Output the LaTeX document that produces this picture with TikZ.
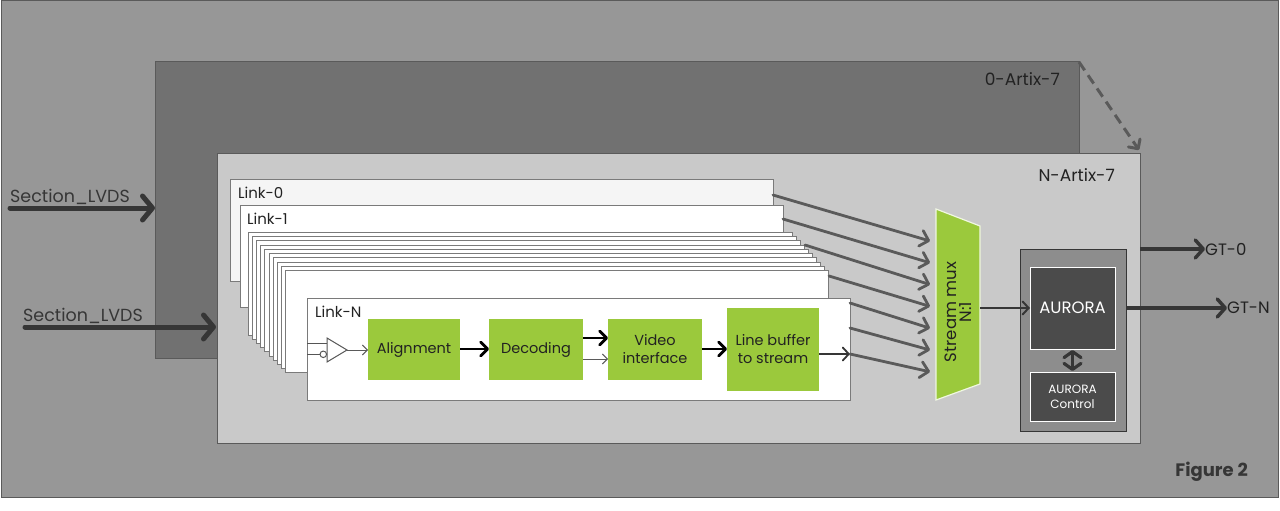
\documentclass[tikz,border=0pt]{standalone}
\usepackage{fontspec}
\setmainfont{Poppins}
\usetikzlibrary{arrows.meta}
\definecolor{outerbg}{HTML}{979797}
\definecolor{artixzero}{HTML}{717171}
\definecolor{artixn}{HTML}{C9C9C9}
\definecolor{edge}{HTML}{5A5A5A}
\definecolor{linkedge}{HTML}{7A7A7A}
\definecolor{lgreen}{HTML}{9BC93C}
\definecolor{arrowgray}{HTML}{5A5A5A}
\definecolor{darkarrow}{HTML}{363636}
\definecolor{auroracont}{HTML}{8D8D8D}
\definecolor{aurorabox}{HTML}{4B4B4B}
\definecolor{txt}{HTML}{222222}
\newcommand\cornerbox[7]{\node[#2,anchor=north west,minimum width={#5-#3},minimum height={#6-#4}] (#1) at (#3,#4) {#7};}
\tikzset{
  boxbase/.style={inner sep=0pt,outer sep=0pt},
  outerframe/.style={boxbase,fill=outerbg,draw=edge,line width=1pt},
  artixzerobox/.style={boxbase,fill=artixzero,draw=edge,line width=1pt},
  artixnbox/.style={boxbase,fill=artixn,draw=edge,line width=1pt},
  linkbox/.style={boxbase,fill=white,draw=linkedge,line width=0.8pt},
  greenbox/.style={boxbase,fill=lgreen,text=txt,font=\fontsize{14.5}{18}\selectfont,align=center},
  auroracontainer/.style={boxbase,fill=auroracont,draw=darkarrow,line width=1pt},
  aurorablock/.style={boxbase,fill=aurorabox,draw=white,line width=1pt,text=white,align=center},
  lbl/.style={inner sep=0pt,text=txt},
  lvdsarrow/.style={draw=darkarrow,line width=5pt,line cap=round,-{Straight Barb[length=10pt,width=24pt,line cap=round,line join=round]}},
  muxarrow/.style={draw=arrowgray,line width=2.8pt,line cap=round,-{Straight Barb[length=8pt,width=16pt,line cap=round,line join=round]}},
  thickarrow/.style={draw=black,line width=2.8pt,-{Straight Barb[length=7pt,width=14pt,line cap=round,line join=round]}},
  thinarrow/.style={draw=arrowgray,line width=0.9pt,-{Straight Barb[length=5pt,width=10pt]}},
  gtarrow/.style={draw=darkarrow,line width=3.5pt,-{Straight Barb[length=8pt,width=18pt,line cap=round,line join=round]}},
  duoarrow/.style={draw=darkarrow,line width=3.2pt,{Straight Barb[length=6pt,width=17pt,line cap=round,line join=round]}-{Straight Barb[length=6pt,width=17pt,line cap=round,line join=round]}},
}
\begin{document}
\begin{tikzpicture}[x=1pt,y=-1pt]
\useasboundingbox (0,0) rectangle (1280,511);
\fill[white] (0,0) rectangle (1280,511);
% frames
\cornerbox{outer}{outerframe}{1}{1}{1278}{497}{}
\cornerbox{artixzero}{artixzerobox}{155}{62}{1079}{358}{}
\cornerbox{artixn}{artixnbox}{217}{153}{1140}{443}{}
\node[lbl,anchor=base east,font=\fontsize{17}{18}\selectfont] (zerolbl) at (1060,85) {0-Artix-7};
\node[lbl,anchor=base east,font=\fontsize{17}{18}\selectfont] (nlbl) at (1115,181) {N-Artix-7};
\draw[draw=arrowgray,line width=3pt,dash pattern=on 10pt off 6pt,-{Straight Barb[length=7pt,width=14pt,line cap=round,line join=round]}] (artixzero.north east) -- ([xshift=-1pt,yshift=3pt]artixn.north east);
% inputs
\coordinate (lvdsa) at (10,208);
\coordinate (lvdsb) at (25,327);
\node[lbl,anchor=base west,font=\fontsize{17.5}{18}\selectfont,text=darkarrow] (lvdsalbl) at (10,202) {Section\_LVDS};
\node[lbl,anchor=base west,font=\fontsize{17.5}{18}\selectfont,text=darkarrow] (lvdsblbl) at (23,321) {Section\_LVDS};
\draw[lvdsarrow] (lvdsa) -- (lvdsa -| artixzero.west);
\draw[lvdsarrow] (lvdsb) -- ([xshift=-1pt]lvdsb -| artixn.west);
% link stack
\cornerbox{linkzero}{linkbox,fill=white!96!black}{230}{179}{773}{281}{}
\node[lbl,anchor=base west,font=\fontsize{15}{16}\selectfont] (linkzerolbl) at (238,198) {Link-0};
\cornerbox{linkone}{linkbox}{240}{205}{783}{307}{}
\node[lbl,anchor=base west,font=\fontsize{15}{16}\selectfont] (linkonelbl) at (247,224) {Link-1};
\foreach \i in {0,...,9}{
  \pgfmathsetmacro\xa{248+4.2*\i}
  \pgfmathsetmacro\ya{232+4.3*\i}
  \pgfmathsetmacro\xb{792+4*\i}
  \pgfmathsetmacro\yb{335+4.2*\i}
  \cornerbox{stack\i}{linkbox}{\xa}{\ya}{\xb}{\yb}{}
}
\cornerbox{linkn}{linkbox}{307}{298}{850}{400}{}
\node[lbl,anchor=base west,font=\fontsize{15}{16}\selectfont] (linknlbl) at (315,317) {Link-N};
% buffer symbol
\coordinate (bufa) at (327,338);
\coordinate (bufb) at (327,362);
\coordinate (bufo) at (347,350);
\draw[linkedge!70!black,line width=1pt,fill=white] (bufa) -- (bufb) -- (bufo) -- cycle;
\draw[linkedge!70!black,line width=1pt] (linkn.west |- 0,343) -- (327,343);
\draw[linkedge!70!black,line width=1pt] (linkn.west |- 0,354) -- (320,354);
\node[circle,draw=linkedge!70!black,line width=1pt,fill=white,inner sep=0pt,minimum size=6.5pt] (bubble) at (323.3,354.3) {};
% green blocks
\cornerbox{align}{greenbox}{368}{319}{460}{380}{Alignment}
\cornerbox{decode}{greenbox}{489}{319}{583}{380}{Decoding}
\cornerbox{video}{greenbox}{608}{319}{702}{380}{Video\\interface}
\cornerbox{lbuf}{greenbox}{727}{308}{819}{391}{Line buffer\\to stream}
\draw[thinarrow] (bufo) -- (bufo -| align.west);
\draw[thickarrow] (align.east |- 0,349) -- (decode.west |- 0,349);
\draw[thickarrow] (decode.east |- 0,338) -- (video.west |- 0,338);
\draw[thinarrow] (decode.east |- 0,359) -- (video.west |- 0,359);
\draw[thickarrow] (video.east |- 0,349) -- (lbuf.west |- 0,349);
\coordinate (lbout) at (850,354);
\draw[draw=darkarrow,line width=1.8pt,-{Straight Barb[length=6pt,width=13pt,line cap=round]}] (lbuf.east |- lbout) -- (lbout);
% stream mux
\coordinate (muxtl) at (936,209);
\coordinate (muxtr) at (980,226);
\coordinate (muxbr) at (980,384);
\coordinate (muxbl) at (936,400);
\draw[fill=lgreen,draw=white!85!lgreen,line width=1.2pt] (muxtl) -- (muxtr) -- (muxbr) -- (muxbl) -- cycle;
\node[lbl,rotate=90,align=center,font=\fontsize{16.5}{15}\selectfont] (mux) at (958,312) {Stream mux\\N:1};
\foreach \i/\sx/\sy in {0/773/195, 1/783/219, 2/805/245, 3/829/276, 4/850/303, 5/850/328, 6/850/354}{
  \pgfmathsetmacro\ey{241+21.8*\i}
  \coordinate (ms\i) at (\sx,\sy);
  \coordinate (me\i) at (930,\ey);
  \draw[muxarrow] (ms\i) -- (me\i);
}
% aurora
\cornerbox{auroracont}{auroracontainer}{1020}{249}{1126}{431}{}
\cornerbox{aurora}{aurorablock,font=\fontsize{16.5}{17}\selectfont}{1030}{267}{1115}{349}{AURORA}
\cornerbox{auroractl}{aurorablock,font=\fontsize{12}{15}\selectfont}{1030}{372}{1115}{421}{AURORA\\Control}
\coordinate (muxout) at (980,308);
\draw[draw=darkarrow,line width=2pt,-{Straight Barb[length=6pt,width=13pt,line cap=round]}] (muxout) -- (muxout -| aurora.west);
\draw[duoarrow] ([yshift=-1pt]aurora.south) -- ([yshift=1pt]auroractl.north);
% outputs
\node[lbl,anchor=west,font=\fontsize{16.5}{17}\selectfont] (gtzero) at (1205,249) {GT-0};
\node[lbl,anchor=west,font=\fontsize{16.5}{17}\selectfont] (gtn) at (1227,308) {GT-N};
\draw[gtarrow] (artixn.east |- gtzero) -- (gtzero.west);
\draw[gtarrow] (auroracont.east |- gtn) -- (gtn.west);
\node[lbl,anchor=base east,font=\fontsize{18}{19}\selectfont\bfseries,text=darkarrow] (fig) at (1248,476) {Figure 2};
\end{tikzpicture}
\end{document}
